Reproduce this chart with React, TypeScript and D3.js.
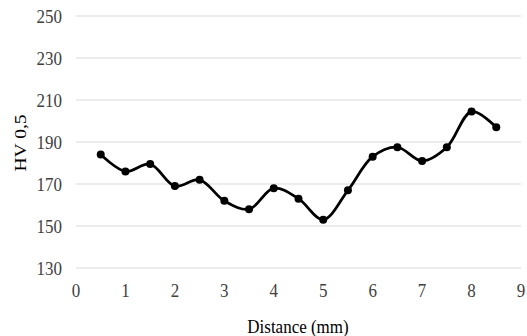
import React from "react";
import * as d3 from "d3";

// Hardness profile across the specimen
const distances = [0.5, 1, 1.5, 2, 2.5, 3, 3.5, 4, 4.5, 5, 5.5, 6, 6.5, 7, 7.5, 8, 8.5];
const hardness = [184, 176, 179.5, 169, 172, 162, 158, 168, 163, 153, 167, 183, 187.5, 181, 187.5, 204.5, 197];
const yTicks = [130, 150, 170, 190, 210, 230, 250];
const xTicks = [0, 1, 2, 3, 4, 5, 6, 7, 8, 9];

const W = 527;
const H = 336;
const fontStyle = { fontFamily: "'Liberation Serif', serif" };
const SY = 1.15; // text is drawn slightly taller than wide

export default function App() {
  const x = d3.scaleLinear().domain([0, 9]).range([76, 521]);
  const y = d3.scaleLinear().domain([130, 250]).range([268, 16]);
  const pts: [number, number][] = distances.map((d, i) => [d, hardness[i]]);
  const line = d3
    .line<[number, number]>()
    .x((d) => x(d[0]))
    .y((d) => y(d[1]))
    .curve(d3.curveCatmullRom.alpha(0.5));

  return (
    <svg width={W} height={H} style={{ position: "absolute", left: 0, top: 0, background: "#fff" }}>
      {yTicks.map((t) => (
        <g key={t}>
          <line x1={x(0)} x2={x(9)} y1={y(t)} y2={y(t)} stroke="#d9d9d9" strokeWidth={1} />
          <text
            transform={`translate(62,${y(t) + 7}) scale(1,${SY})`}
            textAnchor="end"
            style={fontStyle}
            fontSize={17}
            fill="#404040"
          >
            {t}
          </text>
        </g>
      ))}
      {xTicks.map((t) => (
        <text
          key={t}
          transform={`translate(${x(t)},297) scale(1,${SY})`}
          textAnchor="middle"
          style={fontStyle}
          fontSize={17}
          fill="#404040"
        >
          {t}
        </text>
      ))}
      <text transform={`translate(298,333) scale(1,${SY})`} textAnchor="middle" style={fontStyle} fontSize={17} fill="#000">
        Distance (mm)
      </text>
      <text
        transform={`translate(26,143) scale(1,${SY}) rotate(-90)`}
        textAnchor="middle"
        style={fontStyle}
        fontSize={17}
        fill="#000"
      >
        HV 0,5
      </text>
      <path d={line(pts) || ""} fill="none" stroke="#000" strokeWidth={2.75} strokeLinejoin="round" />
      {pts.map((p, i) => (
        <circle key={i} cx={x(p[0])} cy={y(p[1])} r={4} fill="#000" />
      ))}
    </svg>
  );
}
